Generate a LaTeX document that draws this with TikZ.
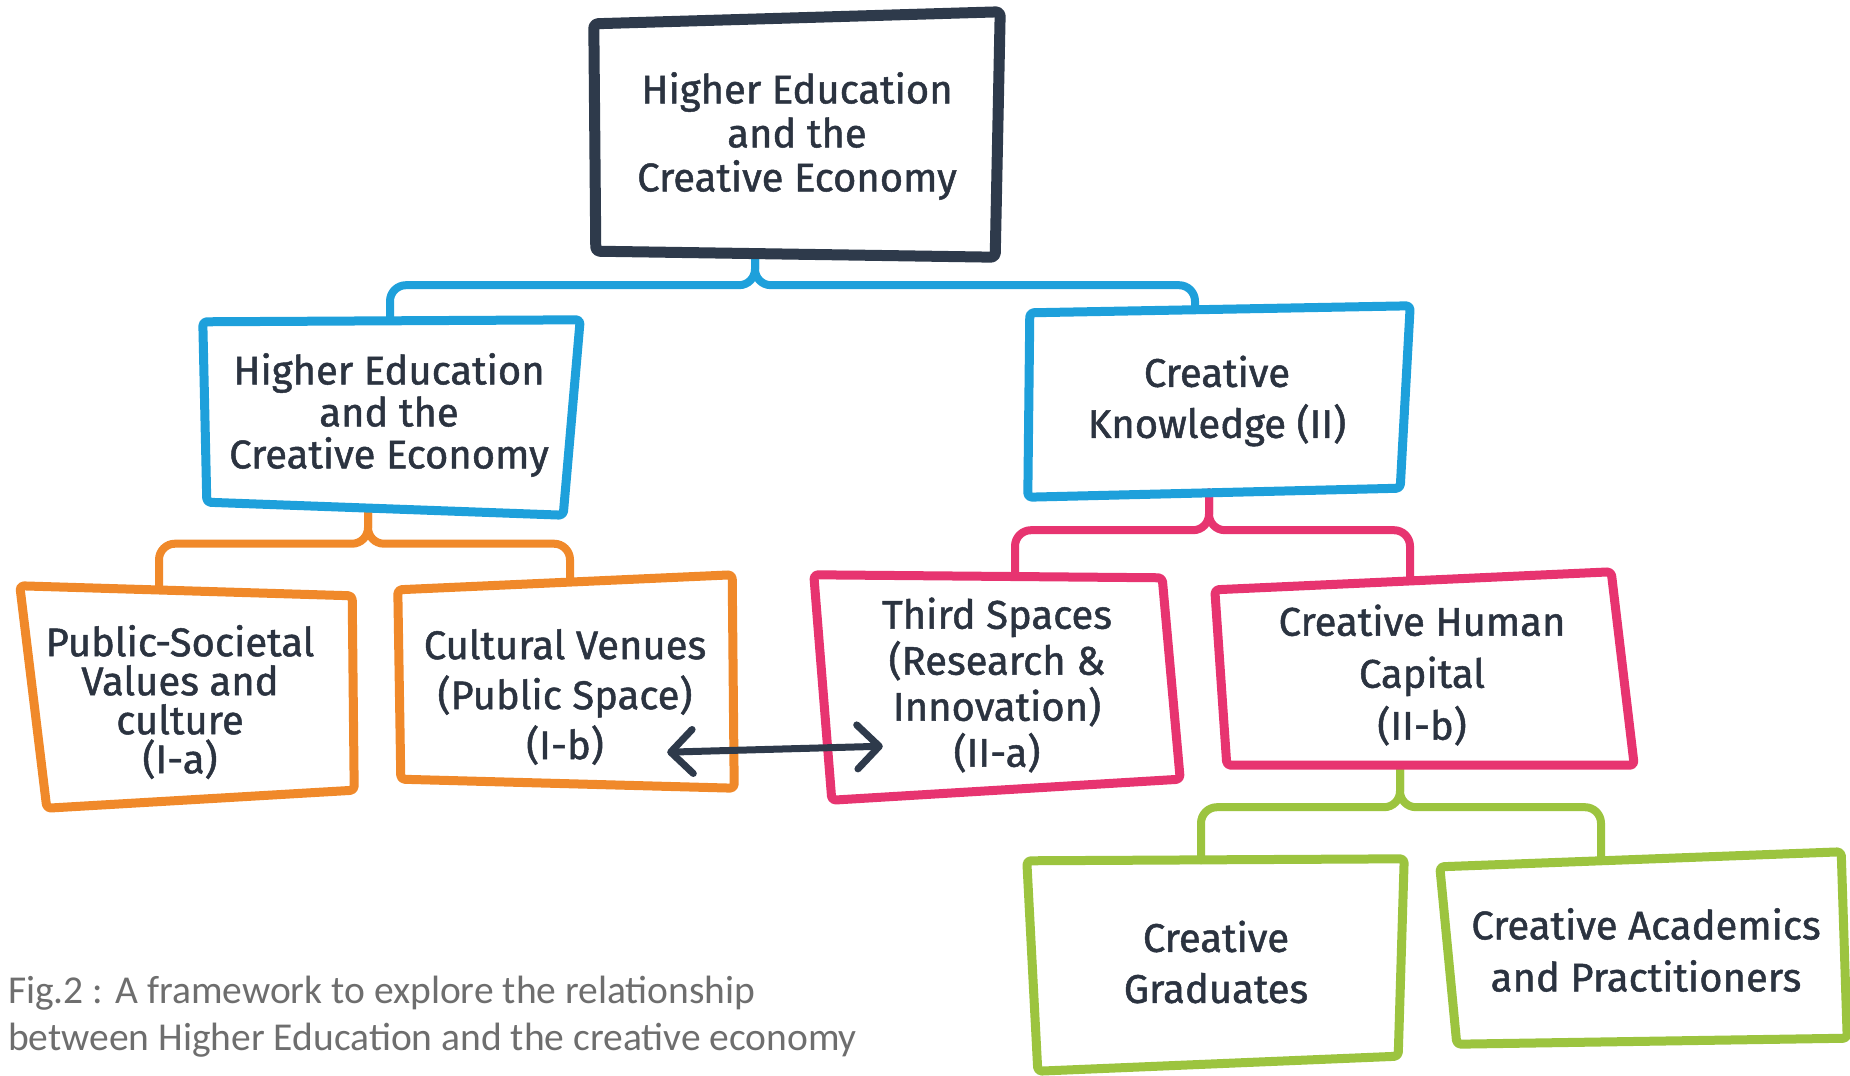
\documentclass[tikz,border=0pt]{standalone}
\usepackage{fontspec}
\usetikzlibrary{arrows.meta}
\newfontfamily\handfont[FakeBold=1.2]{Fira Sans}
\newfontfamily\capfont{Carlito}
\definecolor{navy}{HTML}{2E3A4B}
\definecolor{ink}{HTML}{2B3340}
\definecolor{skyblue}{HTML}{1EA0DB}
\definecolor{orangeline}{HTML}{F0892A}
\definecolor{pinkline}{HTML}{E73470}
\definecolor{greenline}{HTML}{9CC43F}
\definecolor{capgrey}{HTML}{6E6E6E}
% a slightly skewed hand-drawn frame around a node: name, colour, shifts of NW, NE, SE, SW corners
\newcommand\sketchframe[6]{%
  \draw[frame,#2] ([shift={#3}]#1.north west) -- ([shift={#4}]#1.north east)
    -- ([shift={#5}]#1.south east) -- ([shift={#6}]#1.south west) -- cycle;}
\begin{document}
\begin{tikzpicture}[x=1pt,y=-1pt,
  box/.style={align=center, inner sep=0pt, text=ink,
    font=\handfont\fontsize{40}{#1}\selectfont},
  box/.default=46,
  frame/.style={line width=9pt, line join=round, rounded corners=4pt},
  conn/.style={line width=8pt, rounded corners=16pt, line cap=round},
  twoway/.style={navy, line width=7pt, line cap=round,
    {Straight Barb[length=22pt,width=44pt,line cap=round,line join=round]}-{Straight Barb[length=22pt,width=44pt,line cap=round,line join=round]}},
  caption/.style={anchor=base west, inner sep=0pt, text=capgrey,
    font=\capfont\fontsize{39.5}{47}\selectfont},
]
\fill[white] (0,0) rectangle (1850,1076);
\useasboundingbox (0,0) rectangle (1850,1076);

% nodes
\node[box=44, minimum width=402pt, minimum height=236pt] (top) at (797,136)
  {Higher Education\\and the\\Creative Economy};
\node[box=42, minimum width=367pt, minimum height=189pt] (hel) at (389,415)
  {Higher Education\\and the\\Creative Economy};
\node[box=51, minimum width=376pt, minimum height=182pt] (ck) at (1217,401)
  {Creative\\Knowledge (II)};
\node[box=39, minimum width=320pt, minimum height=210pt] (Ia) at (180,702)
  {Public-Societal\\Values and\\culture\\(I-a)};
\node[box=50, minimum width=334pt, minimum height=200pt] (Ib) at (565,697)
  {Cultural Venues\\(Public Space)\\(I-b)};
\node[box=46, minimum width=348pt, minimum height=214pt] (IIa) at (997,685)
  {Third Spaces\\(Research \&\\Innovation)\\(II-a)};
\node[box=52, minimum width=401pt, minimum height=184pt] (IIb) at (1422,675)
  {Creative Human\\Capital\\(II-b)};
\node[box=51, minimum width=369pt, minimum height=203pt] (grad) at (1216,962)
  {Creative\\Graduates};
\node[box=52, minimum width=396pt, minimum height=181pt] (acad) at (1646,950)
  {Creative Academics\\and Practitioners};

% brace-like connectors
\draw[conn,skyblue] ([xshift=-42pt]top.south) -- ++(0,31) -| ([xshift=1pt]hel.north);
\draw[conn,skyblue] ([xshift=-42pt]top.south) -- ++(0,31) -| ([xshift=-22pt]ck.north);
\draw[conn,orangeline] ([xshift=-21pt]hel.south) -- ++(0,34) -| ([shift={(-21,-7)}]Ia.north);
\draw[conn,orangeline] ([xshift=-21pt]hel.south) -- ++(0,34) -| ([shift={(5,-15)}]Ib.north);
\draw[conn,pinkline] ([xshift=-8pt]ck.south) -- ++(0,38) -| ([shift={(18,-2)}]IIa.north);
\draw[conn,pinkline] ([xshift=-8pt]ck.south) -- ++(0,38) -| ([shift={(-12,-2)}]IIb.north);
\draw[conn,greenline] ([xshift=-22pt]IIb.south) -- ++(0,40) -| ([xshift=-15pt]grad.north);
\draw[conn,greenline] ([xshift=-22pt]IIb.south) -- ++(0,40) -| ([xshift=-45pt]acad.north);

% frames
\sketchframe{top}{navy,line width=11pt}{(-2,6)}{(2,-6)}{(-3,3)}{(0,-3)}
\sketchframe{hel}{skyblue}{(-2.5,1.5)}{(7.5,-0.5)}{(-9.5,5.5)}{(1.5,-7.5)}
\sketchframe{ck}{skyblue}{(1,3)}{(5,-4)}{(-5,-4)}{(-1,5)}
\sketchframe{Ia}{orangeline}{(0,-11)}{(12,-1)}{(14,-17)}{(27,1)}
\sketchframe{Ib}{orangeline}{(0,-7)}{(0,-22)}{(2,-9)}{(3,-18)}
\sketchframe{IIa}{pinkline}{(-9,-3)}{(-9,0)}{(9,-13)}{(9,8)}
\sketchframe{IIb}{pinkline}{(-6.5,7)}{(-11.5,-11)}{(11.5,-2)}{(5.5,-2)}
\sketchframe{grad}{greenline}{(-4.5,0.5)}{(3.5,-1.5)}{(-2.5,-7.5)}{(6.5,7.5)}
\sketchframe{acad}{greenline}{(-8,7.5)}{(-3,-7.5)}{(3,-2.5)}{(9,3.5)}

% two-way link between the public space and the third spaces
\draw[twoway] ([shift={(-65,-45)}]Ib.south east) -- ([shift={(60,-46)}]IIa.south west);

% caption
\node[caption] (cap1) at (8,1003) {Fig.2 : A framework to explore the relationship};
\node[caption] (cap2) at (8,1050) {between Higher Education and the creative economy};
\end{tikzpicture}
\end{document}
